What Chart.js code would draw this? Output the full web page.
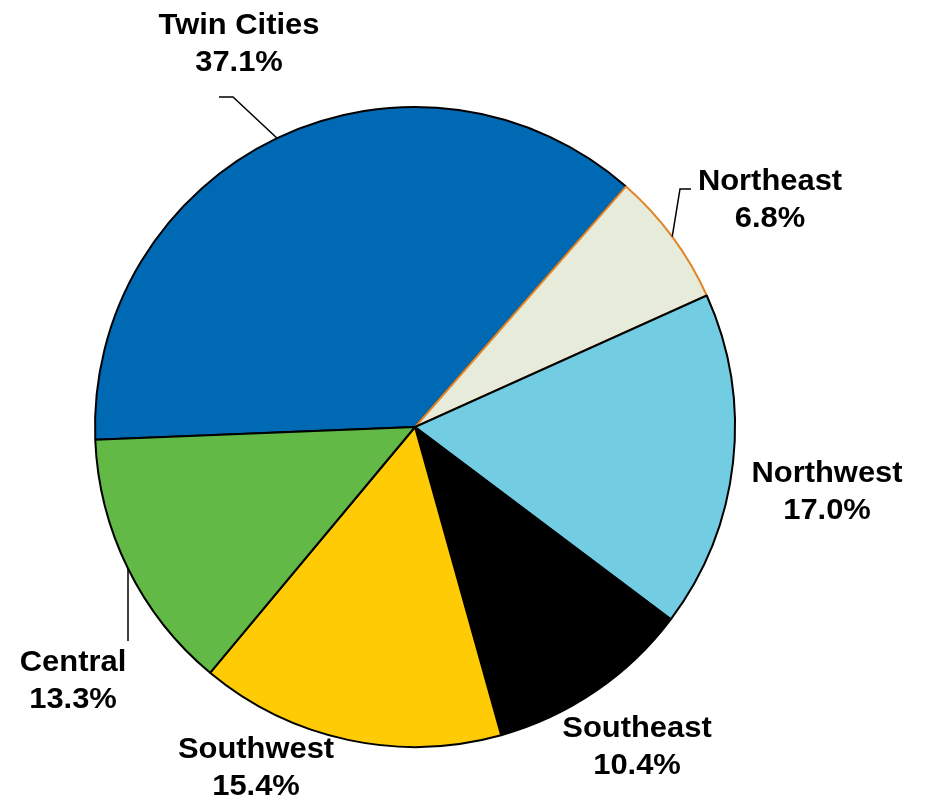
<!DOCTYPE html>
<html>
<head>
<meta charset="utf-8">
<script src="https://cdn.jsdelivr.net/npm/chart.js@4"></script>
<style>
  html, body { margin: 0; padding: 0; background: #fff; }
</style>
</head>
<body>
<canvas id="regionChart" width="928" height="801"></canvas>
<script>
// data (percent of total)
const regions = ["Twin Cities", "Northeast", "Northwest", "Southeast", "Southwest", "Central"];
const shares = [37.1, 6.8, 17.0, 10.4, 15.4, 13.3];
const sliceColors = ["#0069B4", "#E6EBDA", "#72CDE2", "#000000", "#FFCB05", "#63B946"];
const sliceBorders = ["#000000", "#E0852A", "#000000", "#000000", "#000000", "#000000"];

// label text centre x, first line baseline y, and leader elbow points
const labelSpots = [
  { x: 239, y: 34, elbow: [[233, 97], [219, 97]] },
  { x: 770, y: 190, elbow: [[680, 189], [691, 189]] },
  { x: 827, y: 482, elbow: null },
  { x: 637, y: 737, elbow: null },
  { x: 256, y: 758, elbow: null },
  { x: 73, y: 671, elbow: [[128, 641]] }
];

const outsideLabels = {
  id: "outsideLabels",
  afterDraw(chart) {
    const ctx = chart.ctx;
    const arcs = chart.getDatasetMeta(0).data;
    arcs.forEach((arc, i) => {
      const spot = labelSpots[i];
      ctx.save();
      if (spot.elbow) {
        const mid = (arc.startAngle + arc.endAngle) / 2;
        const sx = arc.x + Math.cos(mid) * arc.outerRadius;
        const sy = arc.y + Math.sin(mid) * arc.outerRadius;
        ctx.beginPath();
        ctx.moveTo(sx, sy);
        spot.elbow.forEach((p) => ctx.lineTo(p[0], p[1]));
        ctx.strokeStyle = "#000";
        ctx.lineWidth = 1.5;
        ctx.stroke();
      }
      ctx.translate(spot.x, spot.y);
      ctx.scale(1.03, 1);
      ctx.fillStyle = "#000";
      ctx.font = "bold 30px 'Liberation Sans', Arial, sans-serif";
      ctx.textAlign = "center";
      ctx.textBaseline = "alphabetic";
      ctx.fillText(regions[i], 0, 0);
      ctx.fillText(shares[i].toFixed(1) + "%", 0, 36.5);
      ctx.restore();
    });
  }
};

new Chart(document.getElementById("regionChart"), {
  type: "pie",
  data: {
    labels: regions,
    datasets: [
      {
        data: shares,
        backgroundColor: sliceColors,
        borderColor: sliceBorders,
        borderWidth: 2,
        borderAlign: "center"
      }
    ]
  },
  options: {
    responsive: false,
    animation: false,
    rotation: 267.7,
    layout: { padding: { left: 94, right: 192, top: 106, bottom: 53 } },
    plugins: {
      legend: { display: false },
      tooltip: { enabled: false }
    }
  },
  plugins: [outsideLabels]
});
</script>
</body>
</html>
